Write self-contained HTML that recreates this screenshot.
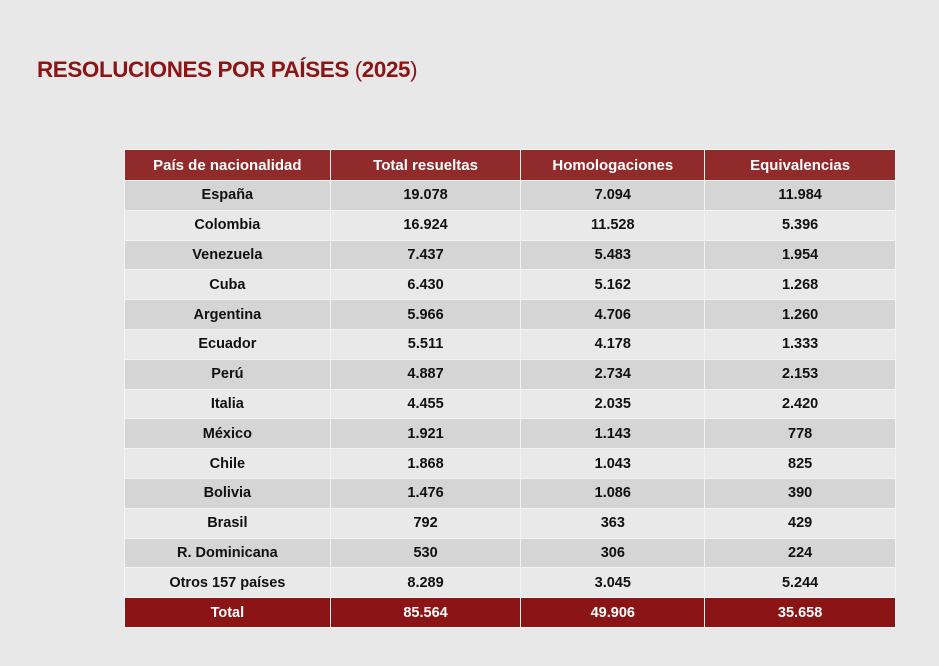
<!DOCTYPE html>
<html><head><meta charset="utf-8"><style>
body{margin:0;width:939px;height:666px;background:#e8e8e8;font-family:"Liberation Sans",sans-serif;position:relative;overflow:hidden}
h1{position:absolute;left:37px;top:57px;margin:0;font-size:22px;font-weight:900;color:#8b1515;letter-spacing:-0.4px;white-space:nowrap;transform:scaleX(1.02);transform-origin:left}
h1 span{font-weight:400}
table{position:absolute;left:124px;top:149px;border-collapse:collapse;width:772px}
td,th{border:1.5px solid #f3f3f3;text-align:center;font-size:14.5px;font-weight:bold;color:#111;padding:0}
tr{height:29.8px}
thead tr{height:31px}
th{background:#912a2b;color:#fff;font-size:15px}
tbody tr:nth-child(odd) td{background:#d5d5d5}
tbody tr:nth-child(even) td{background:#e9e9e9}
tr.t td{background:#8b1416 !important;color:#fff}
</style></head><body>
<h1>RESOLUCIONES POR PAÍSES <span>(</span>2025<span>)</span></h1>
<table>
<colgroup><col style="width:206px"><col style="width:191px"><col style="width:184px"><col style="width:191px"></colgroup>
<thead><tr><th>País de nacionalidad</th><th>Total resueltas</th><th>Homologaciones</th><th>Equivalencias</th></tr></thead>
<tbody>
<tr><td>España</td><td>19.078</td><td>7.094</td><td>11.984</td></tr>
<tr><td>Colombia</td><td>16.924</td><td>11.528</td><td>5.396</td></tr>
<tr><td>Venezuela</td><td>7.437</td><td>5.483</td><td>1.954</td></tr>
<tr><td>Cuba</td><td>6.430</td><td>5.162</td><td>1.268</td></tr>
<tr><td>Argentina</td><td>5.966</td><td>4.706</td><td>1.260</td></tr>
<tr><td>Ecuador</td><td>5.511</td><td>4.178</td><td>1.333</td></tr>
<tr><td>Perú</td><td>4.887</td><td>2.734</td><td>2.153</td></tr>
<tr><td>Italia</td><td>4.455</td><td>2.035</td><td>2.420</td></tr>
<tr><td>México</td><td>1.921</td><td>1.143</td><td>778</td></tr>
<tr><td>Chile</td><td>1.868</td><td>1.043</td><td>825</td></tr>
<tr><td>Bolivia</td><td>1.476</td><td>1.086</td><td>390</td></tr>
<tr><td>Brasil</td><td>792</td><td>363</td><td>429</td></tr>
<tr><td>R. Dominicana</td><td>530</td><td>306</td><td>224</td></tr>
<tr><td>Otros 157 países</td><td>8.289</td><td>3.045</td><td>5.244</td></tr>
<tr class="t"><td>Total</td><td>85.564</td><td>49.906</td><td>35.658</td></tr>
</tbody></table>
</body></html>
